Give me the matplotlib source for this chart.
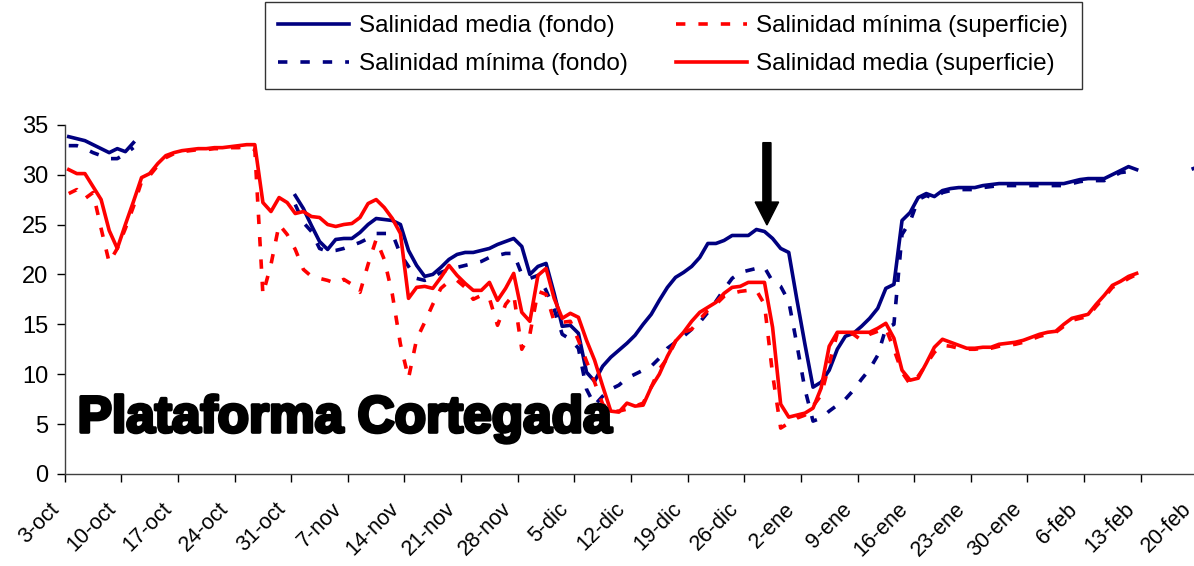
import numpy as np
import matplotlib.pyplot as plt
import matplotlib.patheffects as pe
from matplotlib.transforms import ScaledTranslation

plt.rcParams['font.family'] = ['Liberation Sans', 'DejaVu Sans']

# days counted from 3-oct (day 0); a value per day
n_days = 141
tick_days = list(range(0, 141, 7))
tick_labels = ['3-oct', '10-oct', '17-oct', '24-oct', '31-oct', '7-nov', '14-nov',
               '21-nov', '28-nov', '5-dic', '12-dic', '19-dic', '26-dic', '2-ene',
               '9-ene', '16-ene', '23-ene', '30-ene', '6-feb', '13-feb', '20-feb']

# Salinidad media (fondo): three stretches with data
media_fondo_a = [33.8, 33.6, 33.4, 33.0, 32.6, 32.2, 32.6, 32.3, 33.2]            # days 0-8
media_fondo_b = [27.9, 26.6, 24.9, 23.3, 22.5, 23.5, 23.6, 23.6, 24.2, 25.0,       # days 28-132
                 25.6, 25.5, 25.4, 25.0, 22.4, 20.9, 19.8, 20.0, 20.7, 21.5,
                 22.0, 22.2, 22.2, 22.4, 22.6, 23.0, 23.3, 23.6, 22.8, 20.0,
                 20.8, 21.1, 18.1, 14.8, 14.9, 14.1, 10.2, 9.3, 10.8, 11.7,
                 12.4, 13.1, 13.9, 15.0, 16.0, 17.4, 18.7, 19.7, 20.2, 20.8,
                 21.7, 23.1, 23.1, 23.4, 23.9, 23.9, 23.9, 24.5, 24.3, 23.6,
                 22.6, 22.2, 17.5, 13.0, 8.7, 9.2, 10.4, 12.5, 13.8, 14.1,
                 14.8, 15.6, 16.6, 18.6, 19.0, 25.4, 26.2, 27.7, 28.1, 27.8,
                 28.4, 28.6, 28.7, 28.7, 28.7, 28.9, 29.0, 29.1, 29.1, 29.1,
                 29.1, 29.1, 29.1, 29.1, 29.1, 29.1, 29.3, 29.5, 29.6, 29.6,
                 29.6, 30.0, 30.4, 30.8, 30.5]
media_fondo_c = [30.6, 30.9]                                                        # days 139-140

# Salinidad mínima (fondo)
minima_fondo_a = [32.9, 32.9, 32.6, 32.2, 31.9, 31.6, 31.6, 32.1, 32.7]            # days 0-8
minima_fondo_b = [27.0, 25.2, 24.3, 22.6, 22.3, 22.4, 22.6, 22.9, 23.2, 23.6,      # days 28-132
                  24.1, 24.1, 24.1, 22.0, 20.8, 19.6, 19.4, 19.7, 20.2, 20.5,
                  20.7, 20.9, 21.1, 21.3, 21.7, 21.9, 22.1, 22.1, 20.0, 19.6,
                  19.9, 18.4, 16.5, 14.0, 13.5, 12.6, 8.5, 6.9, 7.8, 8.5,
                  8.9, 9.6, 10.0, 10.4, 10.8, 11.6, 12.6, 13.2, 13.8, 14.5,
                  15.2, 16.2, 17.3, 18.5, 19.6, 20.2, 20.4, 20.6, 20.7, 19.3,
                  18.8, 17.3, 13.0, 8.5, 5.3, 5.6, 6.3, 6.9, 7.5, 8.4,
                  9.5, 10.5, 11.9, 14.6, 15.0, 24.0, 25.3, 27.5, 27.9, 27.6,
                  28.2, 28.4, 28.5, 28.5, 28.5, 28.7, 28.8, 28.9, 28.9, 28.9,
                  28.9, 28.9, 28.9, 28.9, 28.9, 28.9, 29.1, 29.3, 29.4, 29.4,
                  29.4, 29.8, 30.2, 30.3, 30.3]

# Salinidad media (superficie), days 0-132
media_sup = [30.5, 30.1, 30.1, 28.8, 27.5, 24.4, 22.6, 25.0, 27.3, 29.7,
             30.1, 31.1, 31.9, 32.2, 32.4, 32.5, 32.6, 32.6, 32.7, 32.7,
             32.8, 32.9, 33.0, 33.0, 27.2, 26.3, 27.7, 27.2, 26.1, 26.3,
             25.8, 25.7, 25.0, 24.8, 25.0, 25.1, 25.7, 27.1, 27.5, 26.7,
             25.6, 24.1, 17.6, 18.7, 18.8, 18.6, 19.7, 20.9, 19.9, 19.1,
             18.4, 18.4, 19.2, 17.4, 18.6, 20.1, 16.2, 15.3, 19.9, 20.6,
             17.6, 15.6, 16.1, 15.7, 13.4, 11.4, 8.8, 6.3, 6.2, 7.1,
             6.8, 6.9, 8.7, 10.0, 11.8, 13.3, 14.2, 15.3, 16.2, 16.7,
             17.2, 18.1, 18.7, 18.8, 19.2, 19.2, 19.2, 14.7, 7.0, 5.7,
             5.9, 6.1, 6.6, 8.6, 12.8, 14.2, 14.2, 14.2, 14.2, 14.2,
             14.6, 15.1, 13.6, 10.4, 9.4, 9.6, 11.1, 12.7, 13.5, 13.2,
             12.9, 12.6, 12.6, 12.7, 12.7, 13.0, 13.1, 13.2, 13.4, 13.7,
             14.0, 14.2, 14.3, 15.0, 15.6, 15.8, 16.0, 17.0, 17.9, 18.9,
             19.3, 19.8, 20.1]

# Salinidad mínima (superficie), days 0-132
minima_sup = [28.1, 28.5, 27.6, 28.2, 24.6, 21.2, 22.6, 24.6, 26.8, 29.3,
              29.9, 30.9, 31.7, 32.1, 32.3, 32.4, 32.5, 32.5, 32.6, 32.6,
              32.7, 32.7, 32.8, 32.5, 18.0, 21.0, 25.0, 24.0, 22.5, 20.5,
              19.8, 19.6, 19.4, 19.1, 19.5, 19.0, 18.2, 21.0, 23.5, 21.5,
              18.0, 13.0, 9.6, 13.5, 15.2, 17.0, 18.6, 19.3, 19.4, 18.7,
              17.5, 17.9, 17.6, 14.9, 17.0, 18.0, 12.5, 14.0, 18.3, 18.0,
              15.3, 15.2, 15.3, 13.4, 11.3, 9.2, 7.0, 6.3, 6.3, 6.5,
              6.8, 7.1, 8.7, 10.5, 11.6, 13.3, 14.2, 14.5, 15.5, 16.4,
              17.0, 17.8, 18.1, 18.3, 18.4, 18.4, 17.0, 10.0, 4.6, 5.1,
              5.6, 5.9, 6.8, 7.9, 11.0, 14.1, 14.2, 14.0, 13.4, 14.0,
              14.3, 14.6, 12.5, 10.2, 9.0, 9.8, 11.0, 12.2, 12.9, 12.8,
              12.6, 12.5, 12.5, 12.6, 12.6, 12.8, 12.9, 13.0, 13.2, 13.5,
              13.8, 14.0, 14.2, 14.8, 15.4, 15.6, 15.8, 16.8, 17.7, 18.7,
              19.1, 19.6, 20.0]


def daily(*pieces):
    # pieces: (first day, values)
    out = np.full(n_days, np.nan)
    for start, vals in pieces:
        out[start:start + len(vals)] = vals
    return out


bm = daily((0, media_fondo_a), (28, media_fondo_b), (139, media_fondo_c))
bd = daily((0, minima_fondo_a), (28, minima_fondo_b))
rm = daily((0, media_sup))
rd = daily((0, minima_sup))

x = np.arange(n_days) + 0.5   # points sit between the day ticks

navy = '#000080'
red = '#FF0000'
lw = 2.6
dash = (2.6, 3.6)

fig = plt.figure(figsize=(11.94, 5.66), dpi=100)
ax = fig.add_axes([64.7 / 1194, 92 / 566, 141 * 8.09 / 1194, 35 * 9.98 / 566])

l1, = ax.plot(x, bm, color=navy, lw=lw, label='Salinidad media (fondo)')
l2, = ax.plot(x, bd, color=navy, lw=lw, dashes=dash, label='Salinidad mínima (fondo)')
l3, = ax.plot(x, rd, color=red, lw=lw, dashes=dash, label='Salinidad mínima (superficie)')
l4, = ax.plot(x, rm, color=red, lw=lw, label='Salinidad media (superficie)')

ax.set_xlim(0, 141)
ax.set_ylim(0, 35)
ax.set_yticks(range(0, 36, 5))
ax.set_xticks(tick_days)
ax.set_xticklabels(tick_labels, rotation=45, ha='right', va='center',
                   rotation_mode='anchor')
ax.tick_params(axis='both', direction='out', length=6, width=1, labelsize=17,
               colors='black')
ax.tick_params(axis='x', labelsize=15.5, pad=17)
ax.tick_params(axis='y', pad=6)
shift = ScaledTranslation(-9 / 100, 0, fig.dpi_scale_trans)
for lab in ax.get_xticklabels():
    lab.set_transform(lab.get_transform() + shift)
for s in ['top', 'right']:
    ax.spines[s].set_visible(False)
for s in ['left', 'bottom']:
    ax.spines[s].set_linewidth(1)
    ax.spines[s].set_color('#404040')

leg = ax.legend(handles=[l1, l2, l3, l4], ncol=2, loc='upper left',
                bbox_to_anchor=(265 / 1194, 1 - 2 / 566), bbox_transform=fig.transFigure,
                borderaxespad=0, fontsize=17.5, handlelength=2.9, handletextpad=0.4,
                columnspacing=2.0, labelspacing=0.65, borderpad=0.55,
                frameon=True, fancybox=False, edgecolor='black')
leg.get_frame().set_linewidth(1.0)

ax.text(1.6, 4.2, 'Plataforma Cortegada', family=['Liberation Sans', 'DejaVu Sans'],
        fontweight='bold', fontsize=37, color='black', ha='left', va='baseline',
        path_effects=[pe.withStroke(linewidth=2.5, foreground='black')])

ax.arrow(86.8, 33.2, 0, -8.25, width=1.0, head_width=2.9, head_length=2.3,
         length_includes_head=True, fc='black', ec='black', clip_on=False)

fig.savefig('out.png', dpi=100)
